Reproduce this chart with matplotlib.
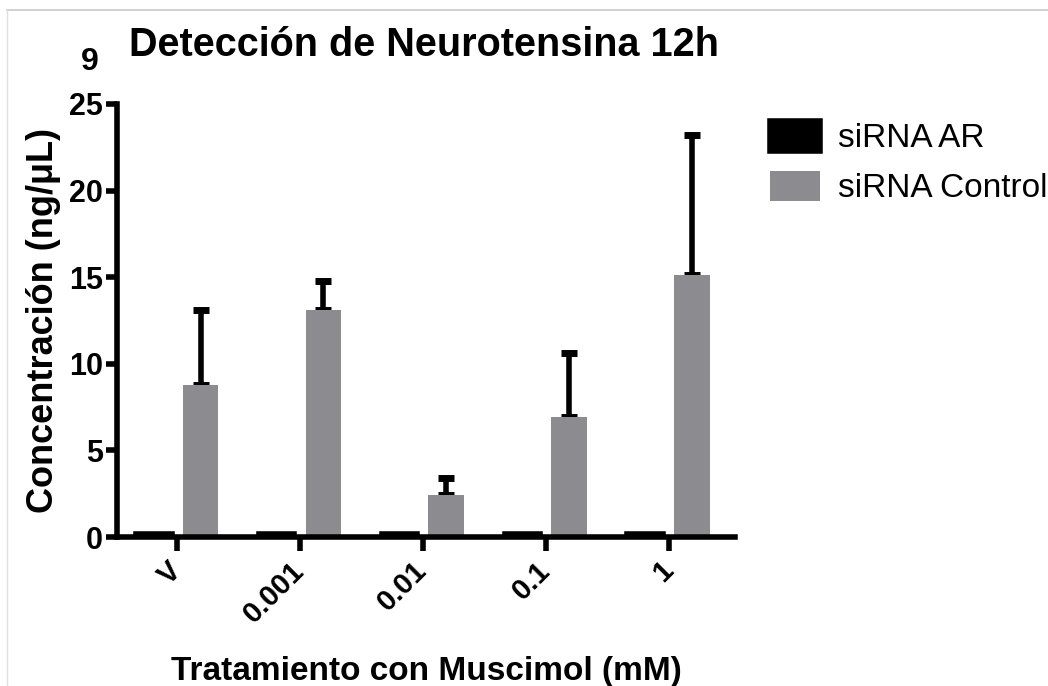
import matplotlib
matplotlib.use("Agg")
import matplotlib.pyplot as plt
from matplotlib.lines import Line2D
import numpy as np

categories = ["V", "0.001", "0.01", "0.1", "1"]
sirna_ar = [0.15, 0.15, 0.15, 0.15, 0.15]
sirna_ctrl = [8.8, 13.1, 2.45, 6.95, 15.15]
sirna_ctrl_err = [4.3, 1.7, 0.95, 3.7, 8.05]
series_names = ["siRNA AR", "siRNA Control"]
title = "Detección de Neurotensina 12h"
panel = "9"
ylabel = "Concentración (ng/μL)"
xlabel = "Tratamiento con Muscimol (mM)"
yticks = [0, 5, 10, 15, 20, 25]

plt.rcParams['font.family'] = ['Liberation Sans', 'DejaVu Sans']
plt.rcParams['font.weight'] = 'bold'

fig = plt.figure(figsize=(10.48, 6.86), dpi=100)
ax = fig.add_axes([0.1116, 0.2172, 0.5897, 0.6312])

# faint frame lines (top and left) seen in reference
fig.add_artist(Line2D([7/1048, 1.0], [1-10/686, 1-10/686], transform=fig.transFigure,
                      color='#c8c8c8', linewidth=1.2))
fig.add_artist(Line2D([7/1048, 7/1048], [0.0, 1-10/686], transform=fig.transFigure,
                      color='#e0e0e0', linewidth=1.0))

x = np.arange(len(categories))
w = 0.29
off = 0.19
gray = '#8c8c90'
ax.bar(x - off, sirna_ar, w, color='black', edgecolor='black', linewidth=4,
       label=series_names[0], zorder=2)
ax.bar(x + off, sirna_ctrl, w, color=gray, edgecolor=gray, linewidth=0,
       label=series_names[1], zorder=2)
ax.errorbar(x + off, sirna_ctrl, yerr=[np.zeros(len(x)), sirna_ctrl_err],
            fmt='none', ecolor='black', elinewidth=4, capsize=6, capthick=5, zorder=1)

ax.set_xlim(-0.49, 4.54)
ax.set_ylim(0, 25)
ax.set_yticks(yticks)
ax.set_yticklabels([str(t) for t in yticks], fontsize=22, fontweight='bold')
ax.set_xticks(x)
ax.set_xticklabels(categories, fontsize=21, fontweight='bold', rotation=45,
                   ha='right', va='center', rotation_mode='anchor')
ax.tick_params(axis='y', direction='out', length=8, width=4, pad=2)
ax.tick_params(axis='x', direction='out', length=10, width=4, pad=11)
for s in ['top', 'right']:
    ax.spines[s].set_visible(False)
for s in ['left', 'bottom']:
    ax.spines[s].set_linewidth(4)
ax.spines['left'].set_bounds(0, 25)

ax.set_ylabel(ylabel, fontsize=26, fontweight='bold', labelpad=6)
ax.set_xlabel(xlabel, fontsize=24, fontweight='bold', labelpad=20)

fig.text(129/1048, 1-45/686, title, fontsize=28.5, fontweight='bold', ha='left', va='center')
fig.text(81/1048, 1-62/686, panel, fontsize=23, fontweight='bold', ha='left', va='center')

leg = ax.legend(loc='upper left', bbox_to_anchor=(770/1048, 1-121/686), bbox_transform=fig.transFigure,
                frameon=False, fontsize=24, handlelength=1.5, handleheight=1.0,
                handletextpad=0.55, labelspacing=0.5, borderpad=0, borderaxespad=0)
for t in leg.get_texts():
    t.set_fontweight('normal')

fig.savefig("out.png", dpi=100)
